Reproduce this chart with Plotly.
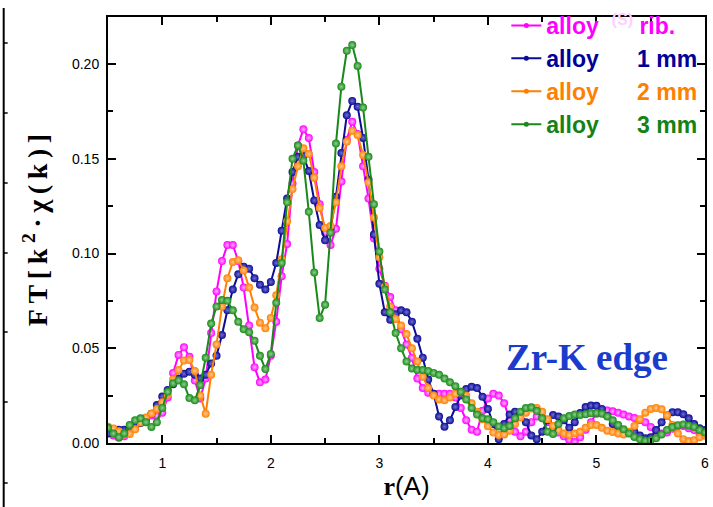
import numpy as np
import plotly.graph_objects as go

# r grid (Å), step 0.05 from 0.5 to 6.0
r = np.round(np.arange(0.5, 6.0001, 0.05), 2)

rib = [0.006, 0.004, 0.0028, 0.0035, 0.006, 0.0085, 0.011, 0.013, 0.0145, 0.0145,
       0.016, 0.024, 0.037, 0.0465, 0.0505, 0.0455, 0.033, 0.0235, 0.034, 0.058,
       0.080, 0.096, 0.1045, 0.1045, 0.096, 0.082, 0.062, 0.040, 0.032, 0.0335,
       0.046, 0.064, 0.088, 0.105, 0.137, 0.157, 0.1655, 0.161, 0.143, 0.126,
       0.111, 0.1045, 0.113, 0.138, 0.160, 0.1695, 0.163, 0.146, 0.129, 0.108,
       0.092, 0.083, 0.077, 0.070, 0.060, 0.052, 0.045, 0.034, 0.029, 0.0265,
       0.026, 0.026, 0.026, 0.026, 0.024, 0.0185, 0.012, 0.007, 0.006, 0.017,
       0.0235, 0.026, 0.025, 0.021, 0.0125, 0.006, 0.0035, 0.006, 0.011, 0.014,
       0.0135, 0.011, 0.008, 0.0055, 0.0035, 0.0015, 0.0005, 0.003, 0.007, 0.011,
       0.0155, 0.0172, 0.0172, 0.0167, 0.016, 0.015, 0.014, 0.0132, 0.0122, 0.011,
       0.0085, 0.0065, 0.005, 0.0055, 0.0075, 0.009, 0.009, 0.0078, 0.0068, 0.005,
       0.004]

mm1 = [0.005, 0.006, 0.007, 0.007, 0.0075, 0.0085, 0.0105, 0.0125, 0.0155, 0.020,
       0.0245, 0.028, 0.031, 0.034, 0.0365, 0.0376, 0.036, 0.0341, 0.036, 0.042,
       0.046, 0.057, 0.070, 0.081, 0.089, 0.093, 0.092, 0.087, 0.0835, 0.081,
       0.085, 0.095, 0.112, 0.129, 0.143, 0.151, 0.1515, 0.1435, 0.128, 0.115,
       0.107, 0.113, 0.130, 0.153, 0.173, 0.1805, 0.1775, 0.161, 0.139, 0.110,
       0.084, 0.069, 0.065, 0.068, 0.070, 0.069, 0.064, 0.055, 0.045, 0.0335,
       0.026, 0.014, 0.0086, 0.012, 0.019, 0.025, 0.0285, 0.0297, 0.029, 0.0244,
       0.018, 0.010, 0.002, 0.010, 0.015, 0.0165, 0.0155, 0.011, 0.004, 0.002,
       0.006, 0.012, 0.0148, 0.014, 0.012, 0.008, 0.011, 0.0158, 0.019, 0.0198,
       0.0196, 0.018, 0.0142, 0.010, 0.0075, 0.0062, 0.0058, 0.0058, 0.004, 0.0025,
       0.003, 0.0068, 0.011, 0.0145, 0.0162, 0.0162, 0.0152, 0.013, 0.010, 0.0078,
       0.0068]

mm2 = [0.0086, 0.0077, 0.0062, 0.0045, 0.0048, 0.0072, 0.0108, 0.0135, 0.0155, 0.018,
       0.0215, 0.0255, 0.0335, 0.0385, 0.0435, 0.0438, 0.038, 0.025, 0.0155, 0.036,
       0.052, 0.072, 0.087, 0.0955, 0.0965, 0.091, 0.082, 0.0715, 0.0635, 0.0605,
       0.066, 0.078, 0.097, 0.117, 0.134, 0.146, 0.1555, 0.1525, 0.140, 0.124,
       0.1135, 0.1145, 0.127, 0.146, 0.159, 0.1648, 0.1625, 0.152, 0.1375, 0.119,
       0.098, 0.0825, 0.072, 0.0655, 0.062, 0.0575, 0.050, 0.043, 0.035, 0.029,
       0.025, 0.023, 0.0225, 0.024, 0.026, 0.027, 0.025, 0.021, 0.0165, 0.0125,
       0.0088, 0.0055, 0.0042, 0.0045, 0.0065, 0.010, 0.0135, 0.016, 0.0182, 0.0185,
       0.0165, 0.0125, 0.009, 0.0068, 0.005, 0.0042, 0.005, 0.006, 0.008, 0.0095,
       0.0095, 0.008, 0.0065, 0.0058, 0.005, 0.0045, 0.006, 0.009, 0.0125, 0.016,
       0.018, 0.0185, 0.0178, 0.0145, 0.0095, 0.005, 0.002, 0.001, 0.0015, 0.003,
       0.0042]

mm3 = [0.008, 0.005, 0.003, 0.005, 0.0095, 0.012, 0.013, 0.011, 0.0085, 0.011,
       0.0185, 0.027, 0.0315, 0.033, 0.031, 0.0237, 0.0225, 0.0306, 0.045, 0.063,
       0.072, 0.0755, 0.075, 0.070, 0.064, 0.060, 0.0585, 0.054, 0.046, 0.039,
       0.047, 0.074, 0.095, 0.127, 0.150, 0.157, 0.149, 0.122, 0.090, 0.066,
       0.073, 0.111, 0.158, 0.188, 0.207, 0.210, 0.199, 0.177, 0.151, 0.126,
       0.101, 0.081, 0.069, 0.058, 0.050, 0.043, 0.0393, 0.0385, 0.0385, 0.038,
       0.037, 0.036, 0.034, 0.032, 0.030, 0.027, 0.023, 0.0185, 0.015, 0.013,
       0.0125, 0.011, 0.0087, 0.0078, 0.009, 0.013, 0.0165, 0.0185, 0.0188, 0.017,
       0.013, 0.006, 0.0048, 0.010, 0.013, 0.0142, 0.015, 0.0148, 0.0152, 0.0157,
       0.0158, 0.0155, 0.014, 0.012, 0.0095, 0.0072, 0.005, 0.0032, 0.002, 0.0012,
       0.0015, 0.0025, 0.0045, 0.0068, 0.0084, 0.0094, 0.0098, 0.0093, 0.0085, 0.0068,
       0.0055]

series = [
    (rib, "#ff00ff", "#ffb0ff", "#ff00ff", "alloy", "rib."),
    (mm1, "#0c0c96", "#7070d0", "#000099", "alloy", "1 mm"),
    (mm2, "#ff8000", "#ffc890", "#ff8000", "alloy", "2 mm"),
    (mm3, "#198a19", "#90d090", "#148214", "alloy", "3 mm"),
]

y_ticks = [0.00, 0.05, 0.10, 0.15, 0.20]
x_ticks = [1, 2, 3, 4, 5, 6]

fig = go.Figure()

for ys, col, grad, _, _, _ in series:
    fig.add_trace(go.Scatter(
        x=r, y=ys, mode="lines+markers", showlegend=False,
        line=dict(color=col, width=2),
        marker=dict(size=8, color=col, line=dict(width=0),
                    gradient=dict(type="radial", color=grad)),
    ))

NB = "\u00a0"
for i, (ys, col, grad, tcol, a, b) in enumerate(series):
    if i == 0:
        name = (f"<b><span style='color:{tcol}'>{a}</span>"
                f"{NB*2}<sup><span style='color:#ffd0ff'>(S)</span></sup>{NB}"
                f"<span style='color:{tcol}'>{b}</span></b>")
    else:
        name = (f"<b><span style='color:{tcol}'>{a}{NB*6}{b}</span></b>")
    fig.add_trace(go.Scatter(
        x=[None], y=[None], mode="lines+markers", name=name,
        legendgroup=f"g{i}",
        line=dict(color=col, width=2),
        marker=dict(size=5, color=col, line=dict(width=0)),
    ))

# stray axis at far left of the picture
W, H = 713, 507
L, R, T, B = 108, 4, 17, 64
pw, ph = W - L - R, H - T - B
def px(xp):
    return (xp - L) / pw
def py(yp):
    return (H - B - yp) / ph

shapes = [dict(type="line", xref="paper", yref="paper",
               x0=px(3), x1=px(3), y0=py(8), y1=py(507),
               line=dict(color="black", width=2))]
for yy in [43, 113, 183, 253, 332, 402, 483]:
    shapes.append(dict(type="line", xref="paper", yref="paper",
                       x0=px(3), x1=px(7), y0=py(yy), y1=py(yy),
                       line=dict(color="black", width=1.5)))

fig.update_layout(
    width=W, height=H,
    margin=dict(l=L, r=R, t=T, b=B, pad=0),
    paper_bgcolor="white", plot_bgcolor="white",
    shapes=shapes,
    showlegend=True,
    legend=dict(x=px(509), y=py(4), xanchor="left", yanchor="top",
                bgcolor="rgba(0,0,0,0)", borderwidth=0,
                font=dict(family="Liberation Sans, Arial", size=23),
                tracegroupgap=0, itemwidth=30),
    annotations=[dict(text="<b>Zr-K edge</b>", xref="paper", yref="paper",
                      x=px(590), y=py(357), xanchor="center", yanchor="middle",
                      showarrow=False,
                      font=dict(family="Liberation Serif, Times New Roman", size=37,
                                color="#1a3ccc"))],
)

T2 = "\u2009"
ytitle = T2.join(["F", "T", "[", "k"]) + T2 + "<sup>2</sup>" + T2 + T2.join(["·", "χ", "(", "k", ")", "]"])

fig.update_xaxes(
    range=[0.5, 6.0], tickvals=x_ticks, ticktext=[str(v) for v in x_ticks],
    ticks="inside", ticklen=8, tickwidth=2, tickcolor="black",
    minor=dict(dtick=0.5, tick0=0.5, ticks="inside", ticklen=5, tickwidth=2, tickcolor="black"),
    showline=True, linecolor="black", linewidth=2, mirror="allticks",
    showgrid=False, zeroline=False,
    tickfont=dict(family="Liberation Sans, Arial", size=14, color="black"),
    ticklabelstandoff=6,
    title=dict(text="<b>r</b><span style='font-family:Liberation Sans'>(A)</span>",
               font=dict(family="Liberation Serif, Times New Roman", size=26, color="black"),
               standoff=4),
)
fig.update_yaxes(
    range=[0, 0.2248], tickvals=y_ticks, ticktext=[f"{v:.2f}" for v in y_ticks],
    ticks="inside", ticklen=8, tickwidth=2, tickcolor="black",
    minor=dict(dtick=0.025, tick0=0, ticks="inside", ticklen=5, tickwidth=2, tickcolor="black"),
    showline=True, linecolor="black", linewidth=2, mirror="allticks",
    showgrid=False, zeroline=False,
    tickfont=dict(family="Liberation Sans, Arial", size=14, color="black"),
    ticklabelstandoff=4,
    title=dict(text=f"<b>{ytitle}</b>",
               font=dict(family="Liberation Serif, Times New Roman", size=28, color="black"),
               standoff=16),
)

fig.write_html("out.html")
